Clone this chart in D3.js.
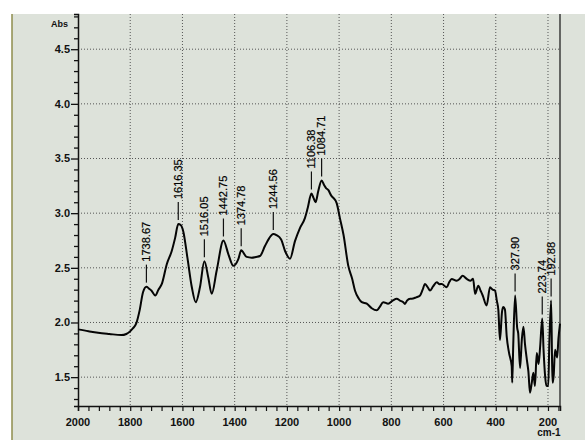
<!DOCTYPE html>
<html>
<head>
<meta charset="utf-8">
<script src="https://cdn.jsdelivr.net/npm/d3@7"></script>
<style>
  html, body { margin: 0; padding: 0; background: #fff; }
  svg { display: block; }
</style>
</head>
<body>
<script>
var width = 585,
    height = 440;

// spectrum: wavenumber (cm-1) and absorbance
var waveNumbers = [2000, 1960, 1923, 1880, 1834, 1815, 1802, 1790, 1777, 1764, 1751, 1738, 1728, 1719, 1704, 1692,
  1679, 1660, 1641, 1628, 1616, 1606, 1597, 1581, 1564, 1549, 1533, 1516, 1501, 1488, 1469, 1443, 1424, 1405,
  1386, 1375, 1354, 1335, 1318, 1303, 1284, 1268, 1252, 1240, 1222, 1207, 1188, 1169, 1150, 1131, 1120, 1106,
  1098, 1090, 1080, 1067, 1058, 1050, 1041, 1030, 1022, 1009, 997, 983, 965, 950, 939, 925, 913, 894, 875, 856,
  845, 831, 812, 795, 779, 767, 754, 748, 740, 728, 722, 705, 690, 680, 671, 660, 652, 640, 626, 615, 607, 588,
  578, 569, 550, 538, 527, 511, 496, 487, 479, 467, 458, 450, 435, 422, 412, 403, 396, 390, 384, 376, 371, 365,
  358, 349, 339, 337, 333, 326, 318, 314, 307, 300, 294, 288, 281, 275, 269, 262, 256, 250, 243, 236, 230, 222,
  217, 211, 206, 199, 195, 188, 184, 182, 178, 173, 165, 160, 154];
var absorbance = [1.937, 1.92, 1.906, 1.895, 1.885, 1.895, 1.915, 1.945, 1.991, 2.111, 2.277, 2.328, 2.31, 2.292, 2.247, 2.30,
  2.353, 2.533, 2.654, 2.774, 2.90, 2.89, 2.835, 2.593, 2.322, 2.186, 2.322, 2.56, 2.412, 2.262, 2.473, 2.75, 2.624, 2.518,
  2.579, 2.66, 2.60, 2.593, 2.60, 2.608, 2.699, 2.77, 2.81, 2.80, 2.76, 2.654, 2.584, 2.744, 2.864, 2.955, 3.05, 3.18,
  3.14, 3.10, 3.20, 3.30, 3.26, 3.23, 3.21, 3.16, 3.14, 3.09, 2.955, 2.80, 2.52, 2.40, 2.29, 2.22, 2.186, 2.172, 2.13, 2.111,
  2.14, 2.186, 2.172, 2.20, 2.217, 2.20, 2.186, 2.17, 2.20, 2.217, 2.217, 2.23, 2.247, 2.30, 2.353, 2.32, 2.292, 2.33, 2.367, 2.35, 2.353, 2.322,
  2.37, 2.398, 2.382, 2.40, 2.428, 2.398, 2.382, 2.40, 2.262, 2.337, 2.29, 2.247, 2.156, 2.322, 2.30, 2.292, 2.20, 2.111, 1.84, 2.10, 2.141, 2.12,
  1.87, 1.72, 1.60, 1.45, 1.80, 2.247, 1.95, 1.90, 1.584, 1.85, 1.96, 1.80, 1.66, 1.55, 1.358, 1.45, 1.54, 1.42, 1.72, 1.62, 1.78, 2.036,
  1.75, 1.508, 1.42, 1.418, 1.80, 2.20, 1.60, 1.448, 1.52, 1.75, 1.68, 1.85, 1.99];

// peak annotations printed by the instrument
var peakLabels = ['1738.67', '1616.35', '1516.05', '1442.75', '1374.78', '1244.56', '1106.38', '1084.71', '327.90', '223.74', '192.88'];
var peakWn = [1738, 1616, 1516, 1443, 1375, 1252, 1106, 1067, 326, 222, 188];
var peakAbs = [2.328, 2.90, 2.56, 2.75, 2.66, 2.81, 3.18, 3.30, 2.247, 2.036, 2.20];

var xMajorTicks = [2000, 1800, 1600, 1400, 1200, 1000, 800, 600, 400, 200];
var yMajorTicks = [1.5, 2.0, 2.5, 3.0, 3.5, 4.0, 4.5];

var svg = d3.select('body').append('svg')
    .attr('width', width)
    .attr('height', height);

// paper
svg.append('rect').attr('width', width).attr('height', height).attr('fill', '#fff');
svg.append('rect')
    .attr('x', 12).attr('y', 14)
    .attr('width', width - 12).attr('height', height - 14)
    .attr('fill', '#dde2da');
svg.append('line')
    .attr('x1', 12).attr('x2', 12).attr('y1', 14).attr('y2', height)
    .attr('stroke', '#8e8c4c').attr('stroke-width', 1.5);

var xScale = d3.scaleLinear().domain([2000, 154]).range([78, 560]),
    yScale = d3.scaleLinear().domain([1.236, 4.822]).range([406, 14]);

var g = svg.append('g');

// dotted grid
g.selectAll('.vgrid')
  .data(xMajorTicks.slice(1))
  .enter().append('line')
    .attr('class', 'vgrid')
    .attr('x1', function(d) { return xScale(d); })
    .attr('x2', function(d) { return xScale(d); })
    .attr('y1', 14).attr('y2', 406)
    .attr('stroke', '#555').attr('stroke-width', 1)
    .attr('stroke-dasharray', '1,2');

g.selectAll('.hgrid')
  .data(yMajorTicks)
  .enter().append('line')
    .attr('class', 'hgrid')
    .attr('x1', 78).attr('x2', 560)
    .attr('y1', function(d) { return yScale(d); })
    .attr('y2', function(d) { return yScale(d); })
    .attr('stroke', '#555').attr('stroke-width', 1)
    .attr('stroke-dasharray', '1,2');

// right frame line
g.append('line')
    .attr('x1', 560).attr('x2', 560).attr('y1', 14).attr('y2', 406)
    .attr('stroke', '#222').attr('stroke-width', 1.3);

// x axis
var xAxis = g.append('g')
    .attr('transform', 'translate(0,406)')
    .call(d3.axisBottom(xScale)
      .tickValues(d3.range(2000, 150, -40))
      .tickSize(5)
      .tickFormat(''));
xAxis.select('.domain').attr('stroke', '#111').attr('stroke-width', 1.5);
xAxis.selectAll('.tick line').attr('stroke', '#111').attr('stroke-width', 1.2);

g.selectAll('.xlabel')
  .data(xMajorTicks)
  .enter().append('text')
    .attr('class', 'xlabel')
    .attr('x', function(d) { return xScale(d); })
    .attr('y', 426)
    .attr('text-anchor', 'middle')
    .style('font', 'bold 11px "Liberation Sans", Arial, sans-serif')
    .attr('fill', '#111')
    .text(function(d) { return d; });

g.append('text')
    .attr('x', 549).attr('y', 436)
    .attr('text-anchor', 'middle')
    .style('font', 'bold 10px "Liberation Sans", Arial, sans-serif')
    .attr('fill', '#111')
    .text('cm-1');

// y axis, minor ticks every 0.1
var yAxis = g.append('g')
    .attr('transform', 'translate(78,0)')
    .call(d3.axisLeft(yScale)
      .tickValues(d3.range(13, 49).map(function(d) { return d / 10; }))
      .tickSize(4)
      .tickFormat(''));
yAxis.select('.domain').attr('stroke', '#111').attr('stroke-width', 1.5);
yAxis.selectAll('.tick line').attr('stroke', '#111').attr('stroke-width', 1.3)
    .attr('x2', function(d) { return (Math.round(d * 10) % 5 === 0) ? -7 : -4; });

g.selectAll('.ylabel')
  .data(yMajorTicks)
  .enter().append('text')
    .attr('class', 'ylabel')
    .attr('x', 70)
    .attr('y', function(d) { return yScale(d); })
    .attr('dy', '0.35em')
    .attr('text-anchor', 'end')
    .style('font', 'bold 11px "Liberation Sans", Arial, sans-serif')
    .attr('fill', '#111')
    .text(function(d) { return d.toFixed(1); });

g.append('text')
    .attr('x', 68).attr('y', 27)
    .attr('text-anchor', 'end')
    .style('font', 'bold 9px "Liberation Sans", Arial, sans-serif')
    .attr('fill', '#111')
    .text('Abs');

// spectrum (ascending x so the monotone curve behaves)
var points = waveNumbers.map(function(w, i) { return [w, absorbance[i]]; }).reverse();
var line = d3.line()
    .x(function(d) { return xScale(d[0]); })
    .y(function(d) { return yScale(d[1]); })
    .curve(d3.curveMonotoneX);

g.append('path')
    .datum(points)
    .attr('d', line)
    .attr('fill', 'none')
    .attr('stroke', '#050505')
    .attr('stroke-width', 2)
    .attr('stroke-linejoin', 'round');

// peak markers and labels
var peaks = peakLabels.map(function(t, i) { return { text: t, wn: peakWn[i], abs: peakAbs[i] }; });

g.selectAll('.peak-line')
  .data(peaks)
  .enter().append('line')
    .attr('class', 'peak-line')
    .attr('x1', function(d) { return xScale(d.wn); })
    .attr('x2', function(d) { return xScale(d.wn); })
    .attr('y1', function(d) { return yScale(d.abs) - 4; })
    .attr('y2', function(d) { return yScale(d.abs) - 22; })
    .attr('stroke', '#111').attr('stroke-width', 1.2);

g.selectAll('.peak-label')
  .data(peaks)
  .enter().append('text')
    .attr('class', 'peak-label')
    .attr('transform', function(d) {
      return 'translate(' + xScale(d.wn) + ',' + (yScale(d.abs) - 25) + ') rotate(-90)';
    })
    .attr('dy', '0.35em')
    .style('font', '11px "Liberation Sans Narrow", "Liberation Sans", Arial, sans-serif')
    .attr('fill', '#000')
    .attr('stroke', '#000').attr('stroke-width', 0.2)
    .text(function(d) { return d.text; });
</script>
</body>
</html>
